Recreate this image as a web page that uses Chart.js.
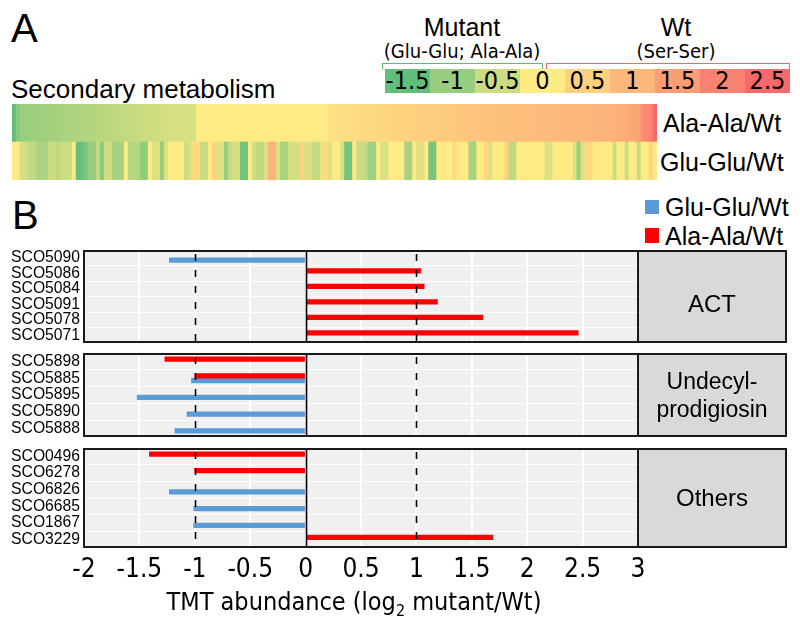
<!DOCTYPE html>
<html><head><meta charset="utf-8">
<script src="https://cdn.jsdelivr.net/npm/chart.js@4.4.1/dist/chart.umd.min.js"></script>
<style>
html,body{margin:0;padding:0;background:#fff;}
#root{position:relative;width:800px;height:629px;overflow:hidden;font-family:"Liberation Sans",Arial,sans-serif;color:#000;}
.t{position:absolute;white-space:nowrap;line-height:1;transform:translateY(-50%);}
.c{transform:translate(-50%,-50%);}
.n{font-family:"Liberation Sans Narrow","Arial Narrow","DejaVu Sans Condensed",sans-serif;}
canvas{position:absolute;}
.abs{position:absolute;}
.lg{position:absolute;top:69px;width:45px;height:24px;line-height:24px;text-align:center;font-size:25px;font-family:"Liberation Sans Narrow","Arial Narrow","DejaVu Sans Condensed",sans-serif;}
</style></head><body><div id="root">
<div class="t" style="left:11px;top:28px;font-size:40px">A</div>
<div class="t c" style="left:462px;top:27px;font-size:25px">Mutant</div>
<div class="t c n" style="left:462px;top:51px;font-size:20px">(Glu-Glu; Ala-Ala)</div>
<div class="t c" style="left:676px;top:27px;font-size:25px">Wt</div>
<div class="t c n" style="left:676px;top:51px;font-size:20px">(Ser-Ser)</div>
<div class="abs" style="left:382px;top:63px;width:159px;height:6px;border:1.5px solid #5fbd72;border-bottom:none"></div>
<div class="abs" style="left:546px;top:63px;width:242px;height:6px;border:1.5px solid #f06a6a;border-bottom:none"></div>
<div id="scale"></div>
<div class="t" style="left:11px;top:89px;font-size:26px">Secondary metabolism</div>
<canvas id="heat" width="645" height="76" style="left:12px;top:104px"></canvas>
<div class="t" style="left:663px;top:123px;font-size:25px">Ala-Ala/Wt</div>
<div class="t" style="left:660px;top:162px;font-size:25px">Glu-Glu/Wt</div>
<div class="t" style="left:12px;top:215px;font-size:40px">B</div>
<div class="abs" style="left:645px;top:200px;width:14px;height:14px;background:#5b9bd5"></div>
<div class="t" style="left:665px;top:207px;font-size:25px">Glu-Glu/Wt</div>
<div class="abs" style="left:645px;top:228px;width:14px;height:15px;background:#ff0000"></div>
<div class="t" style="left:665px;top:236px;font-size:25px">Ala-Ala/Wt</div>
<canvas id="p1" width="800" height="93" style="left:0;top:250px"></canvas>
<canvas id="p2" width="800" height="84" style="left:0;top:353px"></canvas>
<canvas id="p3" width="800" height="140" style="left:0;top:448px"></canvas>
<div class="t c" style="left:712px;top:304px;font-size:24px">ACT</div>
<div class="t c" style="left:712px;top:381px;font-size:23px">Undecyl-</div>
<div class="t c" style="left:712px;top:409px;font-size:23px">prodigiosin</div>
<div class="t c" style="left:712px;top:498px;font-size:24px">Others</div>
<div class="t c n" style="left:354px;top:604px;font-size:25px">TMT abundance (log<sub style="font-size:16px">2</sub> mutant/Wt)</div>
</div>
<script>
// ---- Panel A: heatmap data (log2 ratio per protein, same protein order in both rows) ----
const alaHeat = [
 -1.55,-1.15,-1.0,-0.98,
 -0.95,-0.94,-0.93,-0.92,-0.9,-0.88,-0.87,-0.86,
 -0.84,-0.82,-0.8,-0.79,-0.78,-0.76,-0.75,-0.73,-0.72,-0.7,
 -0.68,-0.66,-0.65,-0.63,-0.62,-0.6,-0.58,-0.57,-0.55,-0.53,
 -0.51,-0.49,-0.47,-0.46,-0.44,-0.42,-0.41,
 -0.38,-0.38,-0.38,-0.38,-0.38,-0.38,-0.38,
 0,0,0,0,0,0,0,0,0,0,0,0,0,0,0,0,0,0,0,0,0,0,0,0,0,0,0,0,0,0,0,0,0,
 0.2,0.22,0.23,0.25,0.26,0.28,0.29,0.31,0.32,0.34,0.35,0.37,0.38,0.4,0.41,0.43,0.44,0.46,0.47,0.49,
 0.5,0.51,0.53,0.54,0.56,0.57,0.59,0.6,0.62,0.63,0.65,0.66,0.68,0.69,0.7,0.72,0.73,0.74,0.75,0.77,0.78,
 0.8,0.81,0.82,0.83,0.84,0.85,0.86,0.87,0.88,0.89,0.9,0.91,0.92,0.93,0.94,0.95,0.96,0.97,0.98,0.99,
 1.0,1.01,1.02,1.03,1.04,1.05,1.06,1.07,1.08,1.1,1.11,1.13,
 1.18,1.22,1.26,1.3,1.35,
 1.8,1.9,2.0,
 2.5
];
const gluHeat = [
 0,0,-0.4,-0.4,-0.6,-0.6,-0.8,-0.8,-0.8,-0.5,
 -0.5,-0.65,-0.5,-0.5,-0.5,0,-1.45,-1.45,-1.25,-1.0,
 -1.0,-0.55,-1.1,-0.45,-0.45,-0.85,-0.85,-0.85,0,-0.7,
 -0.7,-0.7,-1.05,-1.05,0,-0.3,-0.3,-1.0,-0.35,0,
 0,0,0,-0.5,-0.35,0.3,0.3,-0.5,-0.5,0,
 0.45,-0.3,-0.3,-1.0,-0.55,-0.4,-0.4,-1.35,-1.35,0,
 -0.45,-0.6,-0.6,-0.3,1.1,1.1,-0.3,-0.85,-0.85,-0.4,
 -0.4,-0.4,0.45,-0.35,-0.35,-0.55,-0.55,-0.2,0.35,-0.3,
 0,0,-0.4,-1.35,-1.35,0,-0.5,-0.5,-0.6,-0.95,
 -0.95,0,-0.35,-0.35,0,0,0,0,-0.85,-0.85,
 0,-0.3,-0.3,0,-1.3,-1.3,0,0,0,0,
 0.35,0,0,0,-0.85,-0.85,0,0,0.4,-0.35,
 0,0,0,0.45,-0.6,-0.6,0,0,0,0,
 0,0,0,-0.35,-0.35,0,0,0,0,0,
 -0.3,-0.95,-0.3,0.35,0.35,0,0,0,0,0,
 -0.5,0,0,-0.5,0,0,-0.55,0,0,0.45,
 0
];
const scaleTicks = [-1.5,-1,-0.5,0,0.5,1,1.5,2,2.5];

// ---- Panel B data ----
const actGenes = ['SCO5090','SCO5086','SCO5084','SCO5091','SCO5078','SCO5071'];
const actAla   = [null, 1.04, 1.07, 1.19, 1.60, 2.46];
const actGlu   = [-1.23, null, null, null, null, null];
const redGenes = ['SCO5898','SCO5885','SCO5895','SCO5890','SCO5888'];
const redAla   = [-1.27, -1.0, null, null, null];
const redGlu   = [null, -1.03, -1.52, -1.07, -1.18];
const othGenes = ['SCO0496','SCO6278','SCO6826','SCO6685','SCO1867','SCO3229'];
const othAla   = [-1.41, -1.0, null, null, null, 1.69];
const othGlu   = [null, null, -1.23, -1.01, -1.01, null];

const HEAT_MIN = -1.5, HEAT_MAX = 2.5;
const RED = '#ff0000', BLUE = '#5b9bd5', PANEL_BG = '#f0f0f0', STRIP_BG = '#d9d9d9';
const ARIAL = '"Liberation Sans", Arial, sans-serif';
const NARROW = '"Liberation Sans Narrow", "Arial Narrow", "DejaVu Sans Condensed", sans-serif';

function mix(a,b,t){return a.map((v,i)=>Math.round(v+(b[i]-v)*t));}
function heatColor(v){
  const G=[0x63,0xBE,0x7B], Y=[0xFF,0xEB,0x84], R=[0xF8,0x69,0x6B];
  const c = v<=0 ? mix(Y,G,Math.min(1,v/HEAT_MIN)) : mix(Y,R,Math.min(1,v/HEAT_MAX));
  return 'rgb('+c[0]+','+c[1]+','+c[2]+')';
}

// colour key
const sc = document.getElementById('scale');
scaleTicks.forEach((v,i)=>{
  const d=document.createElement('div');
  d.className='lg'; d.style.left=(385+45*i)+'px'; d.style.background=heatColor(v);
  d.textContent=String(v); sc.appendChild(d);
});

Chart.defaults.font.family = ARIAL;

new Chart(document.getElementById('heat'), {
  type:'bar',
  data:{ labels: alaHeat.map((_,i)=>String(i)), datasets:[
    {label:'Glu-Glu/Wt', data: gluHeat.map(()=>1), backgroundColor: gluHeat.map(heatColor), borderWidth:0, barPercentage:1, categoryPercentage:1},
    {label:'Ala-Ala/Wt', data: alaHeat.map(()=>1), backgroundColor: alaHeat.map(heatColor), borderWidth:0, barPercentage:1, categoryPercentage:1}
  ]},
  options:{ responsive:false, animation:false, events:[], layout:{padding:0},
    plugins:{legend:{display:false}, tooltip:{enabled:false}},
    scales:{ x:{display:false, stacked:true}, y:{display:false, stacked:true, min:0, max:2} } }
});

const panelPlugin = {
  id:'panel',
  beforeDraw(chart){
    const {ctx, chartArea:a} = chart;
    ctx.save(); ctx.fillStyle = PANEL_BG; ctx.fillRect(a.left, a.top, a.right-a.left, a.bottom-a.top); ctx.restore();
  },
  afterDatasetsDraw(chart){
    const {ctx, chartArea:a, scales:{x}} = chart;
    ctx.save(); ctx.strokeStyle = '#000';
    ctx.lineWidth = 1.6; ctx.setLineDash([7,9]);
    [-1,1].forEach(v=>{ const px = Math.round(x.getPixelForValue(v))+0.5; ctx.beginPath(); ctx.moveTo(px, a.top+4); ctx.lineTo(px, a.bottom); ctx.stroke(); });
    ctx.setLineDash([]); ctx.lineWidth = 1.6;
    const p0 = Math.round(x.getPixelForValue(0))+0.5;
    ctx.beginPath(); ctx.moveTo(p0, a.top); ctx.lineTo(p0, a.bottom); ctx.stroke();
    ctx.restore();
  },
  afterDraw(chart){
    const {ctx, chartArea:a} = chart;
    ctx.save();
    ctx.fillStyle = STRIP_BG; ctx.fillRect(a.right, a.top, 786-a.right, a.bottom-a.top);
    ctx.strokeStyle = '#1a1a1a'; ctx.lineWidth = 2;
    ctx.strokeRect(a.left, a.top+1, a.right-a.left, a.bottom-a.top-2);
    ctx.strokeRect(a.right, a.top+1, 786-a.right, a.bottom-a.top-2);
    ctx.restore();
  }
};

function makePanel(id, genes, ala, glu, showX){
  return new Chart(document.getElementById(id), {
    type:'bar',
    data:{ labels: genes, datasets:[
      {label:'Ala-Ala/Wt', data: ala, backgroundColor: RED, barThickness:4.6, borderWidth:0},
      {label:'Glu-Glu/Wt', data: glu, backgroundColor: BLUE, barThickness:4.6, borderWidth:0}
    ]},
    options:{ indexAxis:'y', responsive:false, animation:false, events:[],
      layout:{padding:{left:0, right:162, top:0, bottom:0}},
      plugins:{legend:{display:false}, tooltip:{enabled:false}},
      scales:{
        x:{ type:'linear', min:-2, max:3,
            ticks:{display:showX, stepSize:0.5, padding:7, color:'#000', font:{size:26, family:NARROW}, callback:v=>String(v), autoSkip:false, maxRotation:0},
            grid:{color:'#ffffff', lineWidth:2, drawTicks:false},
            border:{display:false},
            afterFit:s=>{ s.height = showX ? 40 : 0; s.paddingLeft=0; s.paddingRight=0; } },
        y:{ ticks:{color:'#000', font:{size:15.7}, padding:4, autoSkip:false},
            grid:{color:'rgba(255,255,255,0.9)', lineWidth:1, drawTicks:false, offset:true},
            border:{display:false},
            afterFit:s=>{ s.width = 84; s.paddingTop=0; s.paddingBottom=0; } }
      } },
    plugins:[panelPlugin]
  });
}
makePanel('p1', actGenes, actAla, actGlu, false);
makePanel('p2', redGenes, redAla, redGlu, false);
makePanel('p3', othGenes, othAla, othGlu, true);
</script>
</body></html>
